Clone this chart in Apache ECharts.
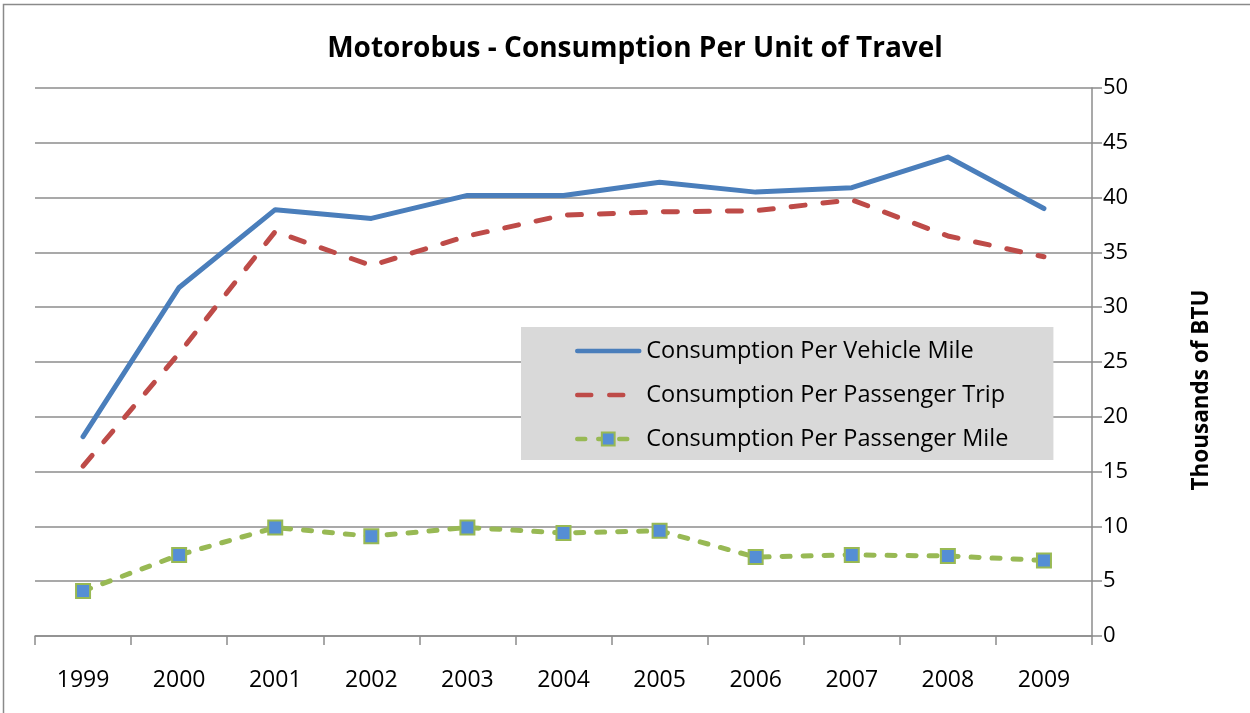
<!DOCTYPE html>
<html>
<head>
<meta charset="utf-8">
<title>Motorobus - Consumption Per Unit of Travel</title>
<script src="https://cdn.jsdelivr.net/npm/echarts@6/dist/echarts.min.js"></script>
<style>
  html, body { margin: 0; padding: 0; background: #fff; }
  #chart { width: 1250px; height: 713px; }
</style>
</head>
<body>
<div id="chart"></div>
<script>
// Years on the category axis
const years = ['1999', '2000', '2001', '2002', '2003', '2004', '2005', '2006', '2007', '2008', '2009'];

// Thousands of BTU
const perVehicleMile = [18.2, 31.8, 38.9, 38.1, 40.2, 40.2, 41.4, 40.5, 40.9, 43.7, 39.0];
const perPassengerTrip = [15.5, 25.8, 36.9, 33.8, 36.5, 38.4, 38.7, 38.8, 39.8, 36.5, 34.6];
const perPassengerMile = [4.1, 7.4, 9.9, 9.1, 9.9, 9.4, 9.6, 7.2, 7.4, 7.3, 6.9];

const seriesNames = [
  'Consumption Per Vehicle Mile',
  'Consumption Per Passenger Trip',
  'Consumption Per Passenger Mile'
];

const FONT = '"Open Sans", "Liberation Sans", sans-serif';
const AXIS_GREY = '#8c8c8c';
const NO_SYMBOL = { color: 'rgba(0,0,0,0)', borderWidth: 0 };

const chart = echarts.init(document.getElementById('chart'), null, { renderer: 'canvas' });

chart.setOption({
  backgroundColor: '#ffffff',
  animation: false,
  textStyle: { fontFamily: FONT, color: '#000' },
  graphic: [{
    type: 'rect',
    shape: { x: 3.5, y: 4.5, width: 1260, height: 730 },
    style: { fill: null, stroke: '#8a8a8a', lineWidth: 1.5 },
    silent: true,
    z: -10
  }],
  title: {
    text: 'Motorobus - Consumption Per Unit of Travel',
    left: 630,
    textAlign: 'center',
    top: 30,
    textStyle: { fontFamily: FONT, fontSize: 28, fontWeight: 'bold', color: '#000' }
  },
  grid: { left: 35, right: 158, top: 88, bottom: 77, containLabel: false },
  legend: {
    orient: 'vertical',
    left: 521,
    top: 327,
    padding: [12, 45, 9, 54],
    itemGap: 20,
    itemWidth: 62,
    itemHeight: 16,
    backgroundColor: '#d9d9d9',
    lineStyle: { width: 4.5 },
    textStyle: { fontFamily: FONT, fontSize: 23.5, color: '#000', padding: [0, 0, 0, 2] },
    data: [
      { name: seriesNames[0], itemStyle: NO_SYMBOL },
      { name: seriesNames[1], itemStyle: NO_SYMBOL },
      { name: seriesNames[2] }
    ]
  },
  xAxis: {
    type: 'category',
    data: years,
    boundaryGap: true,
    axisLine: { show: true, lineStyle: { color: AXIS_GREY, width: 1.5 } },
    axisTick: { show: true, length: 9, lineStyle: { color: AXIS_GREY, width: 1.5 } },
    axisLabel: { fontFamily: FONT, fontSize: 23, color: '#000', margin: 33 },
    splitLine: { show: false }
  },
  yAxis: {
    type: 'value',
    position: 'right',
    min: 0,
    max: 50,
    interval: 5,
    name: 'Thousands of BTU',
    nameLocation: 'middle',
    nameRotate: 90,
    nameGap: 98,
    nameTextStyle: {
      fontFamily: FONT, fontSize: 22.5, fontWeight: 'bold', color: '#000',
      padding: [0, 56, 0, 0]
    },
    axisLine: { show: true, lineStyle: { color: AXIS_GREY, width: 1.5 } },
    axisTick: { show: true, length: 10, lineStyle: { color: AXIS_GREY, width: 1.5 } },
    axisLabel: { fontFamily: FONT, fontSize: 22, color: '#000', margin: 11 },
    splitLine: { show: true, lineStyle: { color: AXIS_GREY, width: 1.5 } }
  },
  series: [
    {
      name: seriesNames[0],
      type: 'line',
      data: perVehicleMile,
      symbol: 'none',
      color: '#4a7ebb',
      lineStyle: { color: '#4a7ebb', width: 5, cap: 'round', join: 'round' },
      z: 3
    },
    {
      name: seriesNames[1],
      type: 'line',
      data: perPassengerTrip,
      symbol: 'none',
      color: '#be4b48',
      lineStyle: { color: '#be4b48', width: 5, type: [14, 18], cap: 'round', join: 'round' },
      z: 2
    },
    {
      name: seriesNames[2],
      type: 'line',
      data: perPassengerMile,
      symbol: 'rect',
      symbolSize: 14,
      color: '#558ed5',
      itemStyle: { color: '#558ed5', borderColor: '#98b954', borderWidth: 2 },
      lineStyle: { color: '#98b954', width: 5, type: [8, 13], cap: 'round', join: 'round' },
      z: 4
    }
  ]
});
</script>
</body>
</html>
